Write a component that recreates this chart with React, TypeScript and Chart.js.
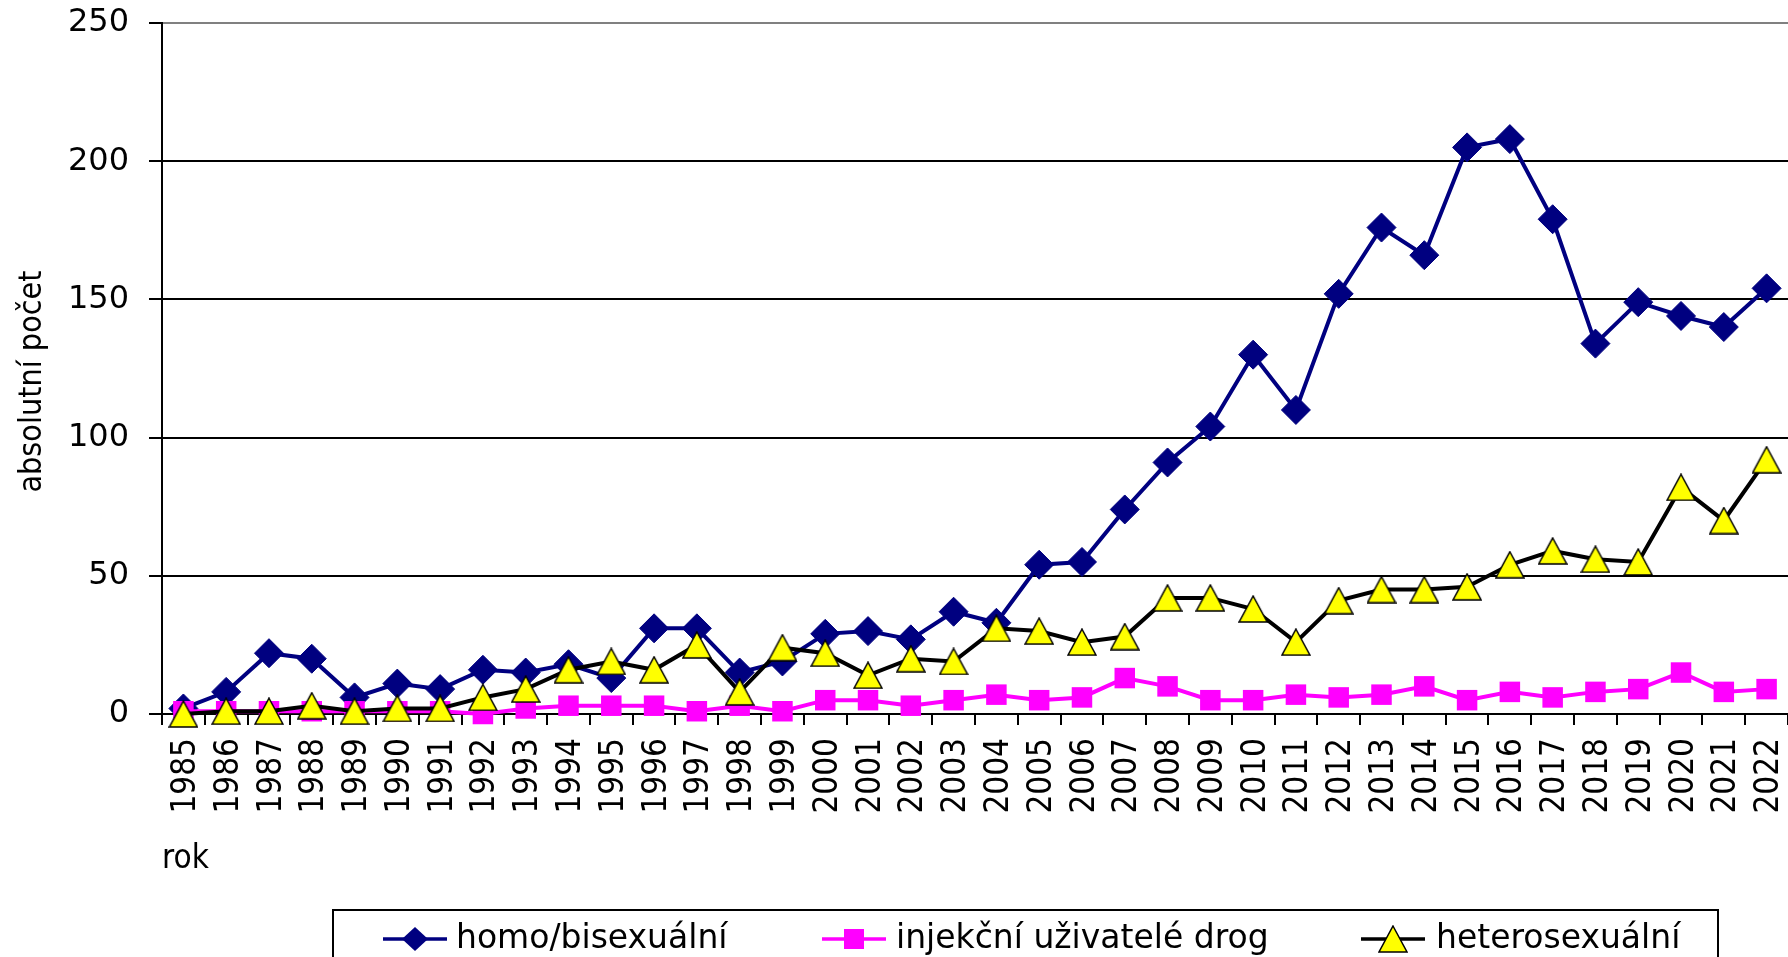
import React, { useEffect, useRef } from 'react';
import { Chart, registerables } from 'chart.js';

Chart.register(...registerables);

const years = [
  '1985', '1986', '1987', '1988', '1989', '1990', '1991', '1992', '1993', '1994',
  '1995', '1996', '1997', '1998', '1999', '2000', '2001', '2002', '2003', '2004',
  '2005', '2006', '2007', '2008', '2009', '2010', '2011', '2012', '2013', '2014',
  '2015', '2016', '2017', '2018', '2019', '2020', '2021', '2022',
];

const homoBisexual = [
  2, 8, 22, 20, 6, 11, 9, 16, 15, 18,
  13, 31, 31, 15, 19, 29, 30, 27, 37, 33,
  54, 55, 74, 91, 104, 130, 110, 152, 176, 166,
  205, 208, 179, 134, 149, 144, 140, 154,
];

const injectingDrugUsers = [
  1, 1, 1, 1, 1, 1, 1, 0, 2, 3,
  3, 3, 1, 3, 1, 5, 5, 3, 5, 7,
  5, 6, 13, 10, 5, 5, 7, 6, 7, 10,
  5, 8, 6, 8, 9, 15, 8, 9,
];

const heterosexual = [
  0, 1, 1, 3, 1, 2, 2, 6, 9, 16,
  19, 16, 25, 8, 24, 22, 14, 20, 19, 31,
  30, 26, 28, 42, 42, 38, 26, 41, 45, 45,
  46, 54, 59, 56, 55, 82, 70, 92,
];

const seriesLabels = ['homo/bisexuální', 'injekční uživatelé drog', 'heterosexuální'];
const yAxisTitle = 'absolutní počet';
const xAxisTitle = 'rok';
const yMin = 0;
const yMax = 250;
const yStep = 50;

const NAVY = '#000080';
const MAGENTA = '#FF00FF';
const YELLOW = '#FFFF00';
const BLACK = '#000000';

const COND = "'DejaVu Sans Condensed', 'DejaVu Sans', sans-serif";
const REG = "'DejaVu Sans', Verdana, sans-serif";

function makeTriangle(): HTMLCanvasElement {
  const c = document.createElement('canvas');
  c.width = 30;
  c.height = 28;
  const g = c.getContext('2d')!;
  g.beginPath();
  g.moveTo(15, 1);
  g.lineTo(29, 27);
  g.lineTo(1, 27);
  g.closePath();
  g.fillStyle = YELLOW;
  g.fill();
  g.lineWidth = 1.5;
  g.strokeStyle = BLACK;
  g.lineJoin = 'miter';
  g.stroke();
  return c;
}

export default function App() {
  const ref = useRef<HTMLCanvasElement>(null);

  useEffect(() => {
    const canvas = ref.current;
    if (!canvas) return;
    const tri = makeTriangle();

    const overlay = {
      id: 'overlay',
      afterDraw(chart: any) {
        const ctx: CanvasRenderingContext2D = chart.ctx;
        const area = chart.chartArea;
        // y-axis title
        ctx.save();
        ctx.translate(33, (area.top + area.bottom) / 2 + 13);
        ctx.rotate(-Math.PI / 2);
        ctx.font = `32px ${COND}`;
        ctx.fillStyle = BLACK;
        ctx.textAlign = 'center';
        ctx.textBaseline = 'middle';
        ctx.fillText(yAxisTitle, 0, 0);
        ctx.restore();

        // legend box
        ctx.save();
        ctx.strokeStyle = BLACK;
        ctx.lineWidth = 2;
        ctx.strokeRect(333, 910, 1718 - 333, 120);
        const y = 939;
        const items = [
          { x0: 383, x1: 447, tx: 456 },
          { x0: 822, x1: 886, tx: 896 },
          { x0: 1361, x1: 1425, tx: 1436 },
        ];
        items.forEach((it, i) => {
          const ds = chart.data.datasets[i];
          ctx.strokeStyle = ds.borderColor;
          ctx.lineWidth = 3.5;
          ctx.beginPath();
          ctx.moveTo(it.x0, y);
          ctx.lineTo(it.x1, y);
          ctx.stroke();
          const cx = (it.x0 + it.x1) / 2;
          if (i === 0) {
            const r = 13;
            ctx.fillStyle = NAVY;
            ctx.beginPath();
            ctx.moveTo(cx - r, y);
            ctx.lineTo(cx, y - r + 1);
            ctx.lineTo(cx + r, y);
            ctx.lineTo(cx, y + r - 1);
            ctx.closePath();
            ctx.fill();
          } else if (i === 1) {
            ctx.fillStyle = MAGENTA;
            ctx.fillRect(cx - 10, y - 10, 20, 20);
          } else {
            ctx.drawImage(tri, cx - tri.width / 2, y - tri.height / 2);
          }
          ctx.fillStyle = BLACK;
          ctx.font = `33px ${REG}`;
          ctx.textAlign = 'left';
          ctx.textBaseline = 'middle';
          ctx.fillText(seriesLabels[i], it.tx, y);
        });
        ctx.restore();
      },
    };

    const chart = new Chart(canvas, {
      type: 'line',
      data: {
        labels: years,
        datasets: [
          {
            label: seriesLabels[0],
            data: homoBisexual,
            borderColor: NAVY,
            backgroundColor: NAVY,
            borderWidth: 4,
            pointStyle: 'rectRot',
            pointRadius: 14.5,
            pointBackgroundColor: NAVY,
            pointBorderColor: NAVY,
            pointBorderWidth: 1,
            tension: 0,
            fill: false,
            clip: false,
            order: 3,
          },
          {
            label: seriesLabels[1],
            data: injectingDrugUsers,
            borderColor: MAGENTA,
            backgroundColor: MAGENTA,
            borderWidth: 4,
            pointStyle: 'rect',
            pointRadius: 14.5,
            pointBackgroundColor: MAGENTA,
            pointBorderColor: MAGENTA,
            pointBorderWidth: 0,
            tension: 0,
            fill: false,
            clip: false,
            order: 2,
          },
          {
            label: seriesLabels[2],
            data: heterosexual,
            borderColor: BLACK,
            backgroundColor: YELLOW,
            borderWidth: 4,
            pointStyle: tri as any,
            pointRadius: 14,
            pointBackgroundColor: YELLOW,
            pointBorderColor: BLACK,
            pointBorderWidth: 1.5,
            tension: 0,
            fill: false,
            clip: false,
            order: 1,
          },
        ],
      },
      options: {
        responsive: false,
        animation: false,
        devicePixelRatio: 1,
        layout: { autoPadding: false, padding: { top: 23, left: 0, right: 0, bottom: 0 } },
        plugins: {
          legend: { display: false },
          tooltip: { enabled: false },
          title: { display: false },
        },
        scales: {
          x: {
            type: 'category',
            offset: true,
            grid: {
              offset: true,
              drawOnChartArea: false,
              drawTicks: true,
              tickLength: 11,
              color: BLACK,
              lineWidth: 2,
            },
            border: { display: true, color: BLACK, width: 2 },
            ticks: {
              autoSkip: false,
              minRotation: 90,
              maxRotation: 90,
              padding: 13,
              labelOffset: 3,
              color: BLACK,
              font: { family: COND, size: 33 },
            },
            title: {
              display: true,
              text: xAxisTitle,
              align: 'start',
              color: BLACK,
              font: { family: COND, size: 33 },
              padding: { top: 0, bottom: 78 },
            },
            afterFit: (s: any) => {
              s.height = 243;
              s.paddingLeft = 0;
              s.paddingRight = 0;
            },
          },
          y: {
            min: yMin,
            max: yMax,
            grid: {
              color: (c: any) => (c.tick && c.tick.value === yMax ? '#808080' : BLACK),
              lineWidth: 2,
              tickLength: 13,
              tickColor: BLACK,
              drawTicks: true,
            },
            border: { display: true, color: BLACK, width: 2 },
            ticks: {
              stepSize: yStep,
              padding: 20,
              color: BLACK,
              font: { family: REG, size: 32 },
            },
            afterFit: (s: any) => {
              s.width = 162;
              s.paddingTop = 0;
              s.paddingBottom = 0;
            },
          },
        },
      },
      plugins: [overlay],
    } as any);

    return () => chart.destroy();
  }, []);

  return (
    <div style={{ position: 'absolute', left: 0, top: 0, width: 1788, height: 957, background: '#ffffff' }}>
      <canvas ref={ref} width={1788} height={957} style={{ display: 'block', width: 1788, height: 957 }} />
    </div>
  );
}
